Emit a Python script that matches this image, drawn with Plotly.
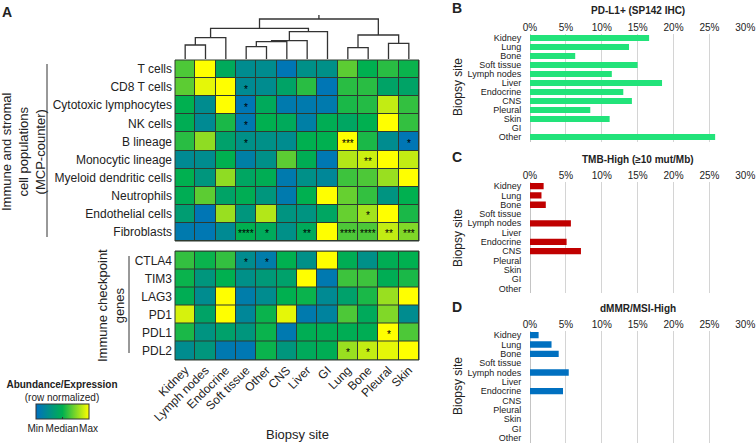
import plotly.graph_objects as go

W, H = 756, 443

# ---------------- data ----------------
sites = ["Kidney", "Lymph nodes", "Endocrine", "Soft tissue", "Other", "CNS",
         "Liver", "GI", "Lung", "Bone", "Pleural", "Skin"]

cell_pops = ["T cells", "CD8 T cells", "Cytotoxic lymphocytes", "NK cells", "B lineage",
             "Monocytic lineage", "Myeloid dendritic cells", "Neutrophils",
             "Endothelial cells", "Fibroblasts"]
cell_vals = [
    [0.65, 1.00, 0.45, 0.22, 0.22, 0.05, 0.25, 0.25, 0.68, 0.50, 0.58, 0.52],
    [0.68, 0.95, 1.00, 0.20, 0.22, 0.40, 0.58, 0.05, 0.58, 0.58, 0.40, 0.40],
    [0.50, 0.22, 1.00, 0.05, 0.45, 0.08, 0.08, 0.08, 0.55, 0.57, 0.88, 0.60],
    [0.48, 0.20, 0.55, 0.07, 0.50, 0.45, 0.12, 0.48, 0.42, 0.50, 1.00, 0.60],
    [0.58, 0.78, 0.38, 0.25, 0.25, 0.22, 0.50, 0.50, 1.00, 0.55, 0.22, 0.05],
    [0.20, 0.22, 0.50, 0.12, 0.25, 0.68, 0.48, 0.06, 0.85, 0.90, 1.00, 0.88],
    [0.50, 0.30, 0.78, 0.42, 0.48, 0.08, 0.25, 0.18, 0.62, 0.65, 0.80, 1.00],
    [0.48, 0.68, 0.40, 0.48, 0.30, 0.08, 0.50, 1.00, 0.70, 0.60, 0.28, 0.50],
    [0.35, 0.05, 0.80, 0.30, 0.85, 0.28, 0.28, 0.42, 0.70, 0.82, 1.00, 0.55],
    [0.08, 0.06, 0.20, 0.50, 0.45, 0.25, 0.45, 1.00, 0.65, 0.65, 0.88, 0.75],
]

checkpoint_genes = ["CTLA4", "TIM3", "LAG3", "PD1", "PDL1", "PDL2"]
checkpoint_vals = [
    [0.60, 0.52, 0.60, 0.22, 0.10, 0.50, 0.25, 1.00, 0.48, 0.25, 0.48, 0.50],
    [0.52, 0.30, 0.50, 0.25, 0.32, 0.38, 1.00, 0.07, 0.62, 0.62, 0.48, 0.55],
    [0.48, 0.22, 1.00, 0.10, 0.22, 0.50, 0.52, 0.20, 0.38, 0.55, 0.80, 1.00],
    [0.92, 0.40, 1.00, 0.18, 0.52, 0.95, 0.08, 0.15, 0.65, 0.45, 0.75, 0.22],
    [0.55, 0.28, 0.38, 0.30, 0.52, 0.07, 0.48, 0.48, 0.48, 0.48, 1.00, 0.65],
    [0.22, 0.30, 0.07, 0.06, 0.52, 0.30, 0.45, 0.48, 0.80, 0.88, 0.95, 1.00],
]

cell_sig = [
    ("CD8 T cells", "Soft tissue", "*"),
    ("Cytotoxic lymphocytes", "Soft tissue", "*"),
    ("NK cells", "Soft tissue", "*"),
    ("B lineage", "Soft tissue", "*"),
    ("B lineage", "Lung", "***"),
    ("B lineage", "Skin", "*"),
    ("Monocytic lineage", "Bone", "**"),
    ("Endothelial cells", "Bone", "*"),
    ("Fibroblasts", "Soft tissue", "****"),
    ("Fibroblasts", "Other", "*"),
    ("Fibroblasts", "Liver", "**"),
    ("Fibroblasts", "Lung", "****"),
    ("Fibroblasts", "Bone", "****"),
    ("Fibroblasts", "Pleural", "**"),
    ("Fibroblasts", "Skin", "***"),
]
checkpoint_sig = [
    ("CTLA4", "Soft tissue", "*"),
    ("CTLA4", "Other", "*"),
    ("PDL1", "Pleural", "*"),
    ("PDL2", "Lung", "*"),
    ("PDL2", "Bone", "*"),
]

# dendrogram merges: (left node, right node, height); leaves 0..11 = column order
dendro_merges = [
    (0, 1, 14.0), (12, 2, 21.3), (3, 4, 12.3), (14, 5, 17.3), (15, 6, 18.3),
    (16, 7, 27.3), (13, 17, 30.7), (8, 9, 11.3), (10, 11, 15.7), (19, 20, 24.0),
    (18, 21, 40.0),
]
dendro_root_top = 44.0

bar_sites = ["Kidney", "Lung", "Bone", "Soft tissue", "Lymph nodes", "Liver",
             "Endocrine", "CNS", "Pleural", "Skin", "GI", "Other"]
pdl1_pct = [16.6, 13.8, 6.3, 15.0, 11.4, 18.4, 13.0, 14.2, 8.4, 11.1, 0, 25.8]
tmb_pct = [1.9, 1.6, 2.2, 0, 5.7, 0, 5.1, 7.1, 0, 0, 0, 0]
msi_pct = [1.2, 3.0, 4.0, 0, 5.4, 0, 4.6, 0, 0, 0, 0, 0]

# ---------------- helpers ----------------
def xd(a, b):
    return [a / W, b / W]

def yd(top, bottom):
    return [1 - bottom / H, 1 - top / H]

def px(x):
    return x / W

def py(y):
    return 1 - y / H

FONT = "Liberation Sans, Arial, sans-serif"
TXT = "#222222"
colorscale = [[0, "#0070C0"], [0.5, "#00B050"], [1, "#FFFF00"]]

fig = go.Figure()

# ---------------- heatmaps ----------------
fig.add_trace(go.Heatmap(z=cell_vals, x=sites, y=cell_pops, coloraxis="coloraxis",
                         xgap=1, ygap=1, xaxis="x", yaxis="y", hoverinfo="skip"))
fig.add_trace(go.Heatmap(z=checkpoint_vals, x=sites, y=checkpoint_genes, coloraxis="coloraxis",
                         xgap=1, ygap=1, xaxis="x2", yaxis="y2", hoverinfo="skip"))

# ---------------- dendrogram ----------------
pos = {i: (float(i), 0.0) for i in range(len(sites))}
dx, dy = [], []
nid = len(sites)
for a, b, h in dendro_merges:
    xa, ha = pos[a]
    xb, hb = pos[b]
    dx += [xa, xa, xb, xb, None]
    dy += [ha, h, h, hb, None]
    pos[nid] = ((xa + xb) / 2, h)
    nid += 1
rx, rh = pos[nid - 1]
dx += [rx, rx, None]
dy += [rh, dendro_root_top, None]
fig.add_trace(go.Scatter(x=dx, y=dy, mode="lines", line=dict(color="#333333", width=1.3),
                         xaxis="x3", yaxis="y3", hoverinfo="skip", showlegend=False))

# ---------------- bar panels ----------------
bar_specs = [
    (pdl1_pct, "#22E37A", "x4", "y4"),
    (tmb_pct, "#C00000", "x5", "y5"),
    (msi_pct, "#0070C0", "x6", "y6"),
]
for vals, col, xa, ya in bar_specs:
    fig.add_trace(go.Bar(x=vals, y=bar_sites, orientation="h", marker=dict(color=col, line=dict(width=0)),
                         xaxis=xa, yaxis=ya, hoverinfo="skip", showlegend=False))

# ---------------- layout ----------------
hm_x = xd(175, 419)
layout = dict(
    width=W, height=H,
    margin=dict(l=0, r=0, t=0, b=0, autoexpand=False),
    paper_bgcolor="white", plot_bgcolor="white",
    font=dict(family=FONT, color=TXT),
    showlegend=False,
    bargap=0.32,
    coloraxis=dict(
        colorscale=colorscale, cmin=0, cmax=1,
        colorbar=dict(
            orientation="h", x=px(62), xanchor="center", y=py(380), yanchor="top",
            len=53, lenmode="pixels", thickness=15, thicknessmode="pixels",
            xpad=0, ypad=0,
            outlinewidth=1, outlinecolor="#333333",
            tickvals=[0, 0.5, 1], ticktext=["Min", "Median", "Max"], tickangle=0,
            ticks="inside", ticklen=2, tickcolor="#333333",
            tickfont=dict(size=10, color=TXT, family=FONT),
            title=dict(text="<b>Abundance/Expression</b><br>(row normalized)", side="top",
                       font=dict(size=10, color=TXT, family=FONT)),
        ),
    ),
    xaxis=dict(domain=hm_x, anchor="y", showticklabels=False, ticks="", showgrid=False, zeroline=False,
               automargin=False),
    yaxis=dict(domain=yd(60, 241), anchor="x", autorange="reversed", ticks="", showgrid=False,
               zeroline=False, tickfont=dict(size=12, color=TXT), ticklabelstandoff=2, automargin=False),
    xaxis2=dict(domain=hm_x, anchor="y2", ticks="", showgrid=False, zeroline=False, tickangle=-45,
                tickfont=dict(size=12, color=TXT), automargin=False),
    yaxis2=dict(domain=yd(251, 360), anchor="x2", autorange="reversed", ticks="", showgrid=False,
                zeroline=False, tickfont=dict(size=12, color=TXT), ticklabelstandoff=2, automargin=False),
    xaxis3=dict(domain=hm_x, anchor="y3", range=[-0.5, 11.5], visible=False),
    yaxis3=dict(domain=yd(13, 59), anchor="x3", range=[0, 46], visible=False),
)

bar_domains = [yd(33.5, 141.5), yd(181.5, 293), yd(330.5, 442.5)]
for i, dom in enumerate(bar_domains):
    n = 4 + i
    layout[f"xaxis{n}"] = dict(domain=xd(530, 746), anchor=f"y{n}", side="top", range=[0, 30.1],
                               dtick=5, ticksuffix="%", showgrid=True, gridcolor="#d4d4d4",
                               gridwidth=1, zeroline=True, zerolinecolor="#c4c4c4", zerolinewidth=1,
                               ticks="", tickfont=dict(size=10, color=TXT), showline=False,
                               automargin=False)
    layout[f"yaxis{n}"] = dict(domain=dom, anchor=f"x{n}", autorange="reversed", ticks="outside",
                               ticklen=6, tickcolor="rgba(0,0,0,0)", showgrid=False,
                               tickmode="array", tickvals=bar_sites, ticktext=bar_sites,
                               tickfont=dict(size=9, color=TXT), automargin=False)
fig.update_layout(**layout)

# heatmap dark cell borders (background rect behind cells)
shapes = []
for xr, yr in [("x", "y"), ("x2", "y2")]:
    shapes.append(dict(type="rect", xref=f"{xr} domain", yref=f"{yr} domain", x0=0, x1=1, y0=0, y1=1,
                       fillcolor="#2e3a30", line=dict(width=0), layer="below"))
    shapes.append(dict(type="rect", xref=f"{xr} domain", yref=f"{yr} domain", x0=0, x1=1, y0=0, y1=1,
                       fillcolor="rgba(0,0,0,0)", line=dict(color="#2e3a30", width=1), layer="above"))
# brackets
shapes.append(dict(type="line", xref="paper", yref="paper", x0=px(47), x1=px(47), y0=py(64), y1=py(237),
                   line=dict(color="#333333", width=1)))
shapes.append(dict(type="line", xref="paper", yref="paper", x0=px(129), x1=px(129), y0=py(256), y1=py(353),
                   line=dict(color="#333333", width=1)))
fig.update_layout(shapes=shapes)

ann = []
for r, c, s in cell_sig:
    ann.append(dict(x=c, y=r, xref="x", yref="y", text=s, showarrow=False, yshift=-2,
                    font=dict(size=10, color="black")))
for r, c, s in checkpoint_sig:
    ann.append(dict(x=c, y=r, xref="x2", yref="y2", text=s, showarrow=False, yshift=-2,
                    font=dict(size=10, color="black")))

def pa(x, y, text, size=12, angle=0, bold=False, xanchor="center"):
    ann.append(dict(x=px(x), y=py(y), xref="paper", yref="paper", text=f"<b>{text}</b>" if bold else text,
                    showarrow=False, textangle=angle, xanchor=xanchor, yanchor="middle",
                    font=dict(size=size, color=TXT, family=FONT)))

pa(7, 12, "A", 14, bold=True)
pa(457, 8, "B", 14, bold=True)
pa(457, 157, "C", 14, bold=True)
pa(457, 307, "D", 14, bold=True)
pa(23, 152, "Immune and stromal<br>cell populations<br>(MCP-counter)", 13, angle=-90)
pa(111, 306, "Immune checkpoint<br>genes", 13, angle=-90)
pa(297, 434, "Biopsy site", 13)
pa(638, 11, "PD-L1+ (SP142 IHC)", 10, bold=True)
pa(638, 159, "TMB-High (≥10 mut/Mb)", 10, bold=True)
pa(638, 308, "dMMR/MSI-High", 10, bold=True)
pa(458, 87, "Biopsy site", 12, angle=-90)
pa(458, 238, "Biopsy site", 12, angle=-90)
pa(458, 386, "Biopsy site", 12, angle=-90)
fig.update_layout(annotations=ann)

page_css = ("document.documentElement.style.margin='0';document.body.style.margin='0';"
            "document.body.style.padding='0';document.documentElement.style.overflow='hidden';"
            "document.body.style.overflow='hidden';")
fig.write_html("out.html", post_script=page_css, config={"displayModeBar": False})
